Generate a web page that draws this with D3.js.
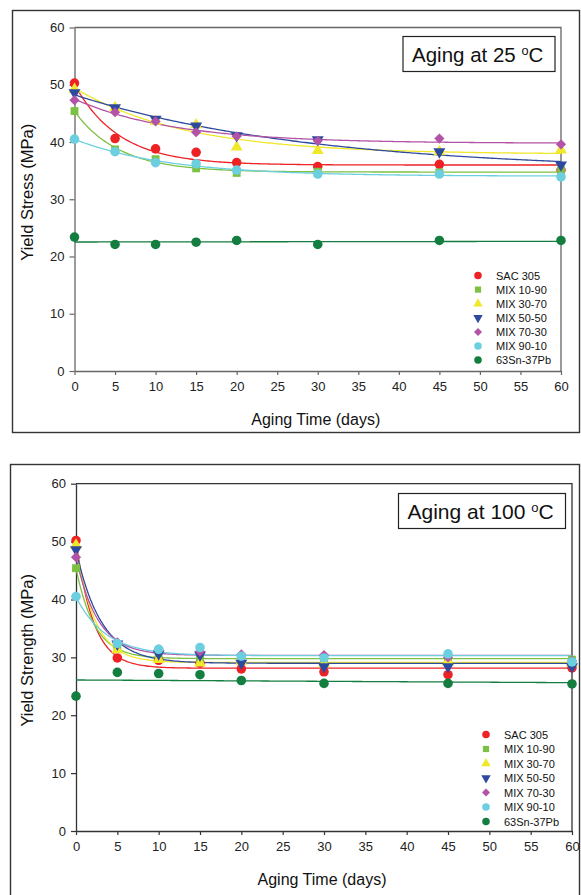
<!DOCTYPE html>
<html>
<head>
<meta charset="utf-8">
<script src="https://cdn.jsdelivr.net/npm/d3@7"></script>
<style>
  html, body { margin: 0; padding: 0; background: #fff; }
  svg { display: block; font-family: Arial, "Liberation Sans", sans-serif; }
</style>
</head>
<body>
<svg id="chart" width="581" height="895"></svg>
<script>
// aging days at which specimens were tested
const days = [0, 5, 10, 15, 20, 30, 45, 60];
const xTicks = [0, 5, 10, 15, 20, 25, 30, 35, 40, 45, 50, 55, 60];
const yTicks = [0, 10, 20, 30, 40, 50, 60];

const alloys = ["SAC 305", "MIX 10-90", "MIX 30-70", "MIX 50-50", "MIX 70-30", "MIX 90-10", "63Sn-37Pb"];
const alloyColors = ["#ee2225", "#7cc142", "#f0e82a", "#2e4a9e", "#b253a7", "#6ccfdf", "#137e3f"];
const alloyShapes = ["circle", "square", "triangle", "triangleDown", "diamond", "circle", "circle"];
const fitKinds = ["exp", "exp", "exp", "exp", "exp", "exp", "linear"];

// yield stress (MPa), aging at 25 C, one row per alloy
const stress25 = [
  [50.3, 40.6, 38.8, 38.2, 36.4, 35.7, 36.1, 35.1],
  [45.4, 38.7, 37.0, 35.4, 34.6, 34.8, 34.7, 35.0],
  [49.2, 46.0, 43.6, 43.0, 39.1, 38.5, 38.3, 38.6],
  [48.6, 46.0, 44.0, 42.8, 41.1, 40.4, 38.3, 36.0],
  [47.3, 45.2, 43.6, 41.7, 41.0, 40.2, 40.6, 39.6],
  [40.5, 38.3, 36.4, 36.2, 35.1, 34.4, 34.4, 33.9],
  [23.4, 22.1, 22.1, 22.5, 22.8, 22.1, 22.8, 22.8]
];

// yield strength (MPa), aging at 100 C
const strength100 = [
  [50.2, 29.9, 29.5, 29.0, 28.0, 27.5, 27.0, 28.2],
  [45.4, 31.5, 29.9, 29.8, 29.9, 29.8, 29.9, 29.6],
  [49.4, 31.3, 29.6, 29.0, 29.3, 28.9, 29.2, 29.0],
  [48.6, 32.3, 30.6, 30.4, 29.0, 28.4, 28.4, 28.4],
  [47.3, 32.6, 31.4, 31.0, 30.5, 30.4, 30.0, 29.4],
  [40.5, 32.4, 31.4, 31.7, 30.2, 29.9, 30.6, 29.2],
  [23.3, 27.4, 27.2, 27.0, 26.0, 25.5, 25.5, 25.4]
];

const panels = [
  {
    values: stress25, yTitle: "Yield Stress (MPa)", note: "Aging at 25 ",
    frame: [12.5, 10.5, 567, 422], xRange: [74.5, 561], yRange: [371, 27.5],
    axisColor: "#666", noteBox: [403, 36.5, 152, 35], noteSize: 20.5,
    legend: { x: 478, y: 275.5, dy: 14.1 }
  },
  {
    values: strength100, yTitle: "Yield Strength (MPa)", note: "Aging at 100 ",
    frame: [10.5, 464.5, 569, 460], xRange: [76, 572], yRange: [831, 483.7],
    axisColor: "#333", noteBox: [398.5, 493.5, 167, 35], noteSize: 21,
    legend: { x: 486, y: 734.5, dy: 14.5 }
  }
];

// least-squares fits: y = a + b*exp(-c*t) (grid over c) or a straight line
function linFit(xs, ys) {
  const mx = d3.mean(xs), my = d3.mean(ys);
  const sxy = d3.sum(xs, (x, i) => (x - mx) * (ys[i] - my));
  const sxx = d3.sum(xs, (x) => (x - mx) * (x - mx));
  const b = sxx ? sxy / sxx : 0;
  return { a: my - b * mx, b };
}

function fitCurve(kind, ts, ys) {
  if (kind === "linear") {
    const { a, b } = linFit(ts, ys);
    return (t) => a + b * t;
  }
  let best = null;
  for (let k = 0; k <= 800; k++) {
    const c = 0.001 * Math.pow(10, k / 200);
    const es = ts.map((t) => Math.exp(-c * t));
    const { a, b } = linFit(es, ys);
    const sse = d3.sum(es, (e, i) => (a + b * e - ys[i]) ** 2);
    if (!best || sse < best.sse) best = { a, b, c, sse };
  }
  return (t) => best.a + best.b * Math.exp(-best.c * t);
}

function symbolPath(shape, size) {
  const types = {
    circle: d3.symbolCircle, square: d3.symbolSquare, diamond: d3.symbolSquare,
    triangle: d3.symbolTriangle, triangleDown: d3.symbolTriangle
  };
  return d3.symbol(types[shape], size)();
}
function symbolRotate(shape) {
  if (shape === "diamond") return " rotate(45)";
  if (shape === "triangleDown") return " rotate(180)";
  return "";
}
function symbolSize(shape) {
  return { circle: 72, square: 62, diamond: 52, triangle: 62, triangleDown: 62 }[shape];
}

const svg = d3.select("#chart");
const tSamples = d3.range(0, 60.001, 0.25);

panels.forEach((p) => {
  const g = svg.append("g");

  g.append("rect")
    .attr("x", p.frame[0]).attr("y", p.frame[1])
    .attr("width", p.frame[2]).attr("height", p.frame[3])
    .attr("fill", "none").attr("stroke", "#333").attr("stroke-width", 1.4);

  const x = d3.scaleLinear().domain([0, 60]).range(p.xRange);
  const y = d3.scaleLinear().domain([0, 60]).range(p.yRange);

  // plot box: top and right edges
  g.append("path")
    .attr("d", `M${x(0)},${y(60)}H${x(60)}V${y(0)}`)
    .attr("fill", "none").attr("stroke", p.axisColor).attr("stroke-width", 1.3);

  const xAxis = g.append("g")
    .attr("transform", `translate(0,${y(0)})`)
    .call(d3.axisBottom(x).tickValues(xTicks).tickSize(4).tickSizeOuter(0).tickPadding(7));
  const yAxis = g.append("g")
    .attr("transform", `translate(${x(0)},0)`)
    .call(d3.axisLeft(y).tickValues(yTicks).tickSize(5).tickSizeOuter(0).tickPadding(5));

  [xAxis, yAxis].forEach((ax) => {
    ax.select(".domain").attr("stroke", p.axisColor).attr("stroke-width", 1.3);
    ax.selectAll(".tick line").attr("stroke", p.axisColor).attr("stroke-width", 1.2);
    ax.selectAll(".tick text")
      .attr("font-family", "Arial, 'Liberation Sans', sans-serif")
      .attr("font-size", 13).attr("fill", "#222");
  });

  g.append("text")
    .attr("x", (p.xRange[0] + p.xRange[1]) / 2 - 2)
    .attr("y", y(0) + 54)
    .attr("text-anchor", "middle")
    .attr("font-size", 16).attr("fill", "#111")
    .text("Aging Time (days)");

  g.append("text")
    .attr("transform", `translate(33,${(p.yRange[0] + p.yRange[1]) / 2 - 7}) rotate(-90)`)
    .attr("text-anchor", "middle")
    .attr("font-size", 16.5).attr("fill", "#111")
    .text(p.yTitle);

  // fitted trend curves
  const curves = g.append("g");
  p.values.forEach((vals, i) => {
    const f = fitCurve(fitKinds[i], days, vals);
    curves.append("path")
      .datum(tSamples)
      .attr("d", d3.line().x((t) => x(t)).y((t) => y(f(t))))
      .attr("fill", "none")
      .attr("stroke", alloyColors[i])
      .attr("stroke-width", 1.3);
  });

  // measured points
  const pts = g.append("g");
  p.values.forEach((vals, i) => {
    const shape = alloyShapes[i];
    pts.selectAll(null)
      .data(vals)
      .join("path")
      .attr("d", symbolPath(shape, symbolSize(shape)))
      .attr("transform", (v, j) => `translate(${x(days[j])},${y(v)})${symbolRotate(shape)}`)
      .attr("fill", alloyColors[i]);
  });

  // annotation box
  g.append("rect")
    .attr("x", p.noteBox[0]).attr("y", p.noteBox[1])
    .attr("width", p.noteBox[2]).attr("height", p.noteBox[3])
    .attr("fill", "#fff").attr("stroke", "#222").attr("stroke-width", 1.2);
  const note = g.append("text")
    .attr("x", p.noteBox[0] + 9)
    .attr("y", p.noteBox[1] + 25.5)
    .attr("font-size", p.noteSize).attr("fill", "#111");
  note.append("tspan").text(p.note);
  note.append("tspan").attr("font-size", p.noteSize * 0.62).attr("dy", -7).text("o");
  note.append("tspan").attr("dy", 7).text("C");

  // legend
  const legend = g.append("g");
  alloys.forEach((name, i) => {
    const ly = p.legend.y + i * p.legend.dy;
    const shape = alloyShapes[i];
    legend.append("path")
      .attr("d", symbolPath(shape, symbolSize(shape) * 0.62))
      .attr("transform", `translate(${p.legend.x},${ly})${symbolRotate(shape)}`)
      .attr("fill", alloyColors[i]);
    legend.append("text")
      .attr("x", p.legend.x + 18)
      .attr("y", ly + 4)
      .attr("font-size", 11).attr("fill", "#111")
      .text(name);
  });
});
</script>
</body>
</html>
